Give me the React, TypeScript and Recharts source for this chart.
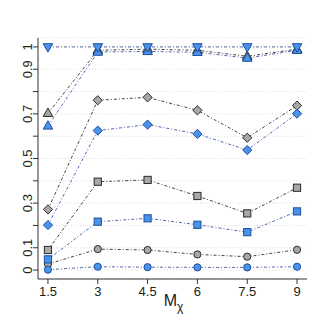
import React from "react";
import { LineChart, Line, XAxis, YAxis, CartesianGrid } from "recharts";

const mx = [1.5, 3, 4.5, 6, 7.5, 9];

const greyCircle = [0.027, 0.094, 0.09, 0.07, 0.06, 0.091];
const blueCircle = [0.002, 0.015, 0.013, 0.012, 0.012, 0.015];
const greySquare = [0.09, 0.396, 0.404, 0.332, 0.254, 0.369];
const blueSquare = [0.048, 0.217, 0.232, 0.203, 0.17, 0.263];
const greyDiamond = [0.272, 0.761, 0.774, 0.716, 0.593, 0.737];
const blueDiamond = [0.202, 0.625, 0.652, 0.61, 0.538, 0.701];
const greyTriUp = [0.703, 0.985, 0.99, 0.985, 0.958, 0.99];
const blueTriUp = [0.646, 0.977, 0.98, 0.976, 0.95, 0.985];
const blueTriDown = [1, 1, 1, 1, 1, 1];

const xTicks = [1.5, 3, 4.5, 6, 7.5, 9];
const yTicks = [0, 0.1, 0.2, 0.3, 0.4, 0.5, 0.6, 0.7, 0.8, 0.9, 1];
const yLabelled = [0, 0.1, 0.3, 0.5, 0.7, 0.9, 1];

const data = mx.map((x, i) => ({
  x,
  gc: greyCircle[i],
  bc: blueCircle[i],
  gs: greySquare[i],
  bs: blueSquare[i],
  gd: greyDiamond[i],
  bd: blueDiamond[i],
  gt: greyTriUp[i],
  bt: blueTriUp[i],
  bv: blueTriDown[i],
}));

const GREY_FILL = "#a8a8a8";
const GREY_EDGE = "#2a2a2a";
const BLUE_FILL = "#4a92ea";
const BLUE_EDGE = "#1d4f9e";
const GREY_LINE = "#444";
const BLUE_LINE = "#5266b4";
const FONT = "'Liberation Sans', Arial, sans-serif";

type Shape = "circle" | "square" | "diamond" | "up" | "down";

function marker(shape: Shape, fill: string, edge: string) {
  return (p: any) => {
    const { cx, cy, index } = p;
    if (cx == null || cy == null) return <g key={index} />;
    const common = { fill, stroke: edge, strokeWidth: 1 };
    if (shape === "circle") return <circle key={index} cx={cx} cy={cy} r={3.6} {...common} />;
    if (shape === "square")
      return <rect key={index} x={cx - 3.6} y={cy - 3.6} width={7.2} height={7.2} {...common} />;
    if (shape === "diamond")
      return (
        <polygon
          key={index}
          points={`${cx},${cy - 4.6} ${cx + 4.6},${cy} ${cx},${cy + 4.6} ${cx - 4.6},${cy}`}
          {...common}
        />
      );
    if (shape === "up")
      return (
        <polygon
          key={index}
          points={`${cx},${cy - 5.2} ${cx + 4.8},${cy + 3.2} ${cx - 4.8},${cy + 3.2}`}
          {...common}
        />
      );
    return (
      <polygon
        key={index}
        points={`${cx},${cy + 5.2} ${cx + 4.8},${cy - 3.2} ${cx - 4.8},${cy - 3.2}`}
        {...common}
      />
    );
  };
}

const YTick = ({ x, y, payload }: any) => {
  const v = Math.round(payload.value * 10) / 10;
  if (!yLabelled.includes(v)) return <g />;
  const bx = x + 1;
  return (
    <text
      x={bx}
      y={y}
      transform={`rotate(-90, ${bx}, ${y})`}
      textAnchor="middle"
      fontSize={13}
      fontFamily={FONT}
      fill="#222"
    >
      {String(v)}
    </text>
  );
};

const XLabel = (props: any) => {
  const vb = props.viewBox || {};
  const cx = vb.x + vb.width / 2;
  return (
    <text x={cx + 1} y={306} textAnchor="middle" fontSize={16} fontFamily={FONT} fill="#222">
      M
      <tspan fontSize={12} dy={5}>χ</tspan>
    </text>
  );
};

const series: { key: string; shape: Shape; blue: boolean }[] = [
  { key: "gc", shape: "circle", blue: false },
  { key: "bc", shape: "circle", blue: true },
  { key: "gs", shape: "square", blue: false },
  { key: "bs", shape: "square", blue: true },
  { key: "gd", shape: "diamond", blue: false },
  { key: "bd", shape: "diamond", blue: true },
  { key: "gt", shape: "up", blue: false },
  { key: "bt", shape: "up", blue: true },
  { key: "bv", shape: "down", blue: true },
];

export default function App() {
  return (
    <div style={{ position: "fixed", left: 0, top: 0, width: 327, height: 327, background: "#fff" }}>
      <LineChart
        width={327}
        height={327}
        data={data}
        margin={{ top: 38, right: 20, left: 0, bottom: 0 }}
      >
        <CartesianGrid
          vertical={false}
          stroke="#dcdcdc"
          strokeDasharray="1 2"
          yAxisId="l"
          xAxisId="b"
        />
        <XAxis
          xAxisId="b"
          dataKey="x"
          type="number"
          domain={[1.2, 9.3]}
          ticks={xTicks}
          allowDataOverflow
          height={48}
          tickSize={5}
          tickMargin={3}
          stroke="#333"
          tick={{ fontSize: 13, fontFamily: FONT, fill: "#222" }}
          label={<XLabel />}
        />
        <XAxis
          xAxisId="t"
          orientation="top"
          dataKey="x"
          type="number"
          domain={[1.2, 9.3]}
          height={0}
          tick={false}
          tickLine={false}
          stroke="#333"
        />
        <YAxis
          yAxisId="l"
          type="number"
          domain={[-0.04, 1.04]}
          ticks={yTicks}
          allowDataOverflow
          width={38}
          tickSize={5}
          tickMargin={2}
          stroke="#333"
          tick={<YTick />}
          interval={0}
        />
        <YAxis
          yAxisId="r"
          orientation="right"
          type="number"
          domain={[-0.04, 1.04]}
          width={0}
          tick={false}
          tickLine={false}
          stroke="#333"
        />
        {series.map((s) => (
          <Line
            key={s.key}
            xAxisId="b"
            yAxisId="l"
            dataKey={s.key}
            type="linear"
            stroke={s.blue ? BLUE_LINE : GREY_LINE}
            strokeWidth={1}
            strokeDasharray="3 2 1 2"
            dot={marker(s.shape, s.blue ? BLUE_FILL : GREY_FILL, s.blue ? BLUE_EDGE : GREY_EDGE)}
            activeDot={false}
            isAnimationActive={false}
          />
        ))}
      </LineChart>
    </div>
  );
}
